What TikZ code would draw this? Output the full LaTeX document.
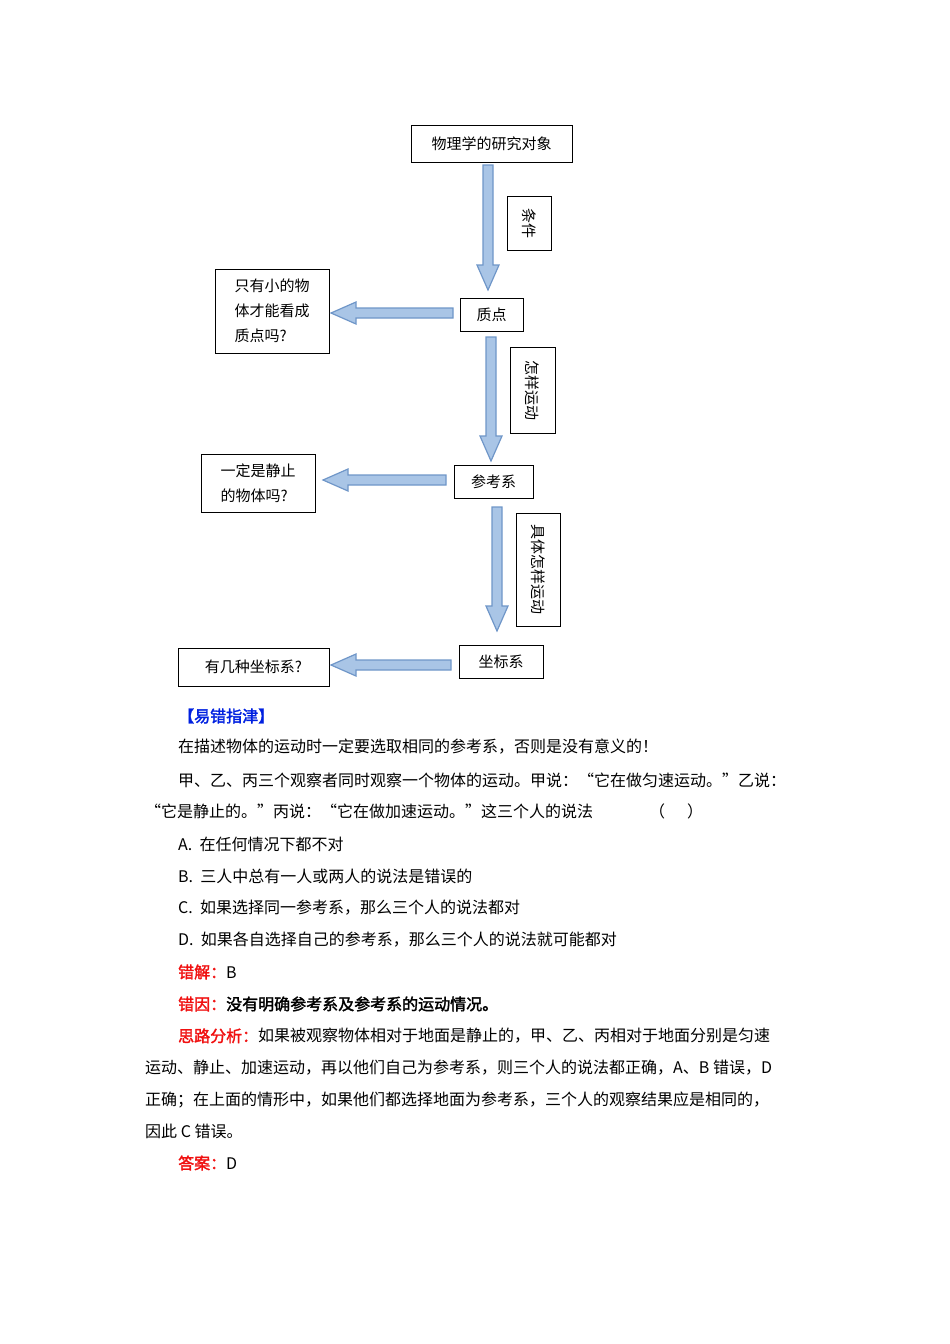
\documentclass[tikz,border=0pt]{standalone}
\usepackage{fontspec}
\setmainfont{Noto Sans CJK SC}
\newfontfamily\cjkb[FakeBold=2]{Noto Sans CJK SC}
\definecolor{afill}{HTML}{A9C5E6}
\definecolor{aline}{HTML}{6F96C8}
\definecolor{hblue}{HTML}{0020E0}
\definecolor{hred}{HTML}{F01010}
\newcommand\blockdown[3]{% x, y1, y2
  \filldraw[ablk] (#1-5,#2) -- (#1+5,#2) -- (#1+5,#3-25) -- (#1+11,#3-25) -- (#1,#3) -- (#1-11,#3-25) -- (#1-5,#3-25) -- cycle;}
\newcommand\blockleft[3]{% y, x1(start right), x2(tip left)
  \filldraw[ablk] (#2,#1-5) -- (#2,#1+5) -- (#3+25,#1+5) -- (#3+25,#1+11) -- (#3,#1) -- (#3+25,#1-11) -- (#3+25,#1-5) -- cycle;}
\begin{document}
\begin{tikzpicture}[x=1pt,y=-1pt,
  box/.style={draw,line width=1pt,inner sep=0pt,font=\fontsize{15}{25}\selectfont},
  ablk/.style={fill=afill,draw=aline,line width=1.2pt,line join=miter},
  txt/.style={anchor=west,inner sep=0pt,font=\fontsize{16}{18}\selectfont}]
\useasboundingbox (0,0) rectangle (950,1344);
% boxes
\node[box,minimum width=161pt,minimum height=37pt] (b1) at (491.5,143.5) {物理学的研究对象};
\node[box,minimum width=44pt,minimum height=54pt] (c1) at (529,223) {\rotatebox{-90}{条件}};
\node[box,minimum width=63pt,minimum height=33pt] (b2) at (491.5,314.5) {质点};
\node[box,minimum width=114pt,minimum height=84pt,align=left] (q1) at (272,311) {只有小的物\\体才能看成\\质点吗?};
\node[box,minimum width=45pt,minimum height=86pt] (c2) at (532.5,390) {\rotatebox{-90}{怎样运动}};
\node[box,minimum width=79pt,minimum height=33pt] (b3) at (493.5,481.5) {参考系};
\node[box,minimum width=114pt,minimum height=58pt,align=left] (q2) at (258,483) {一定是静止\\的物体吗?};
\node[box,minimum width=44pt,minimum height=113pt] (c3) at (538,569.5) {\rotatebox{-90}{具体怎样运动}};
\node[box,minimum width=84pt,minimum height=33pt] (b4) at (501,661.5) {坐标系};
\node[box,minimum width=151pt,minimum height=38pt] (q3) at (253.5,667) {有几种坐标系?};
% arrows
\blockdown{488}{165}{290}
\blockdown{491}{337}{461}
\blockdown{497}{507}{631}
\blockleft{313}{453}{331}
\blockleft{480}{446}{323}
\blockleft{665}{451}{331}
% text
\node[txt,text=hblue] (t0) at (178,716) {\cjkb【易错指津】};
\node[txt] (t1) at (178,747) {在描述物体的运动时一定要选取相同的参考系，否则是没有意义的！};
\node[txt] (t2) at (178,780) {甲、乙、丙三个观察者同时观察一个物体的运动。甲说：“它在做匀速运动。”乙说：};
\node[txt] (t3) at (145,811) {“它是静止的。”丙说：“它在做加速运动。”这三个人的说法\hspace{56pt}（\hspace{22pt}）};
\node[txt] (t4) at (178,844) {A.\ \ 在任何情况下都不对};
\node[txt] (t5) at (178,876) {B.\ \ 三人中总有一人或两人的说法是错误的};
\node[txt] (t6) at (178,908) {C.\ \ 如果选择同一参考系，那么三个人的说法都对};
\node[txt] (t7) at (178,940) {D.\ \ 如果各自选择自己的参考系，那么三个人的说法就可能都对};
\node[txt] (t8) at (178,972) {{\cjkb\color{hred}错解：}B};
\node[txt] (t9) at (178,1004) {\cjkb{\color{hred}错因：}没有明确参考系及参考系的运动情况。};
\node[txt] (t10) at (178,1036) {{\cjkb\color{hred}思路分析：}如果被观察物体相对于地面是静止的，甲、乙、丙相对于地面分别是匀速};
\node[txt] (t11) at (145,1068) {运动、静止、加速运动，再以他们自己为参考系，则三个人的说法都正确，A、B 错误，D};
\node[txt] (t12) at (145,1100) {正确；在上面的情形中，如果他们都选择地面为参考系，三个人的观察结果应是相同的，};
\node[txt] (t13) at (145,1131) {因此 C 错误。};
\node[txt] (t14) at (178,1163) {{\cjkb\color{hred}答案：}D};
\end{tikzpicture}
\end{document}
